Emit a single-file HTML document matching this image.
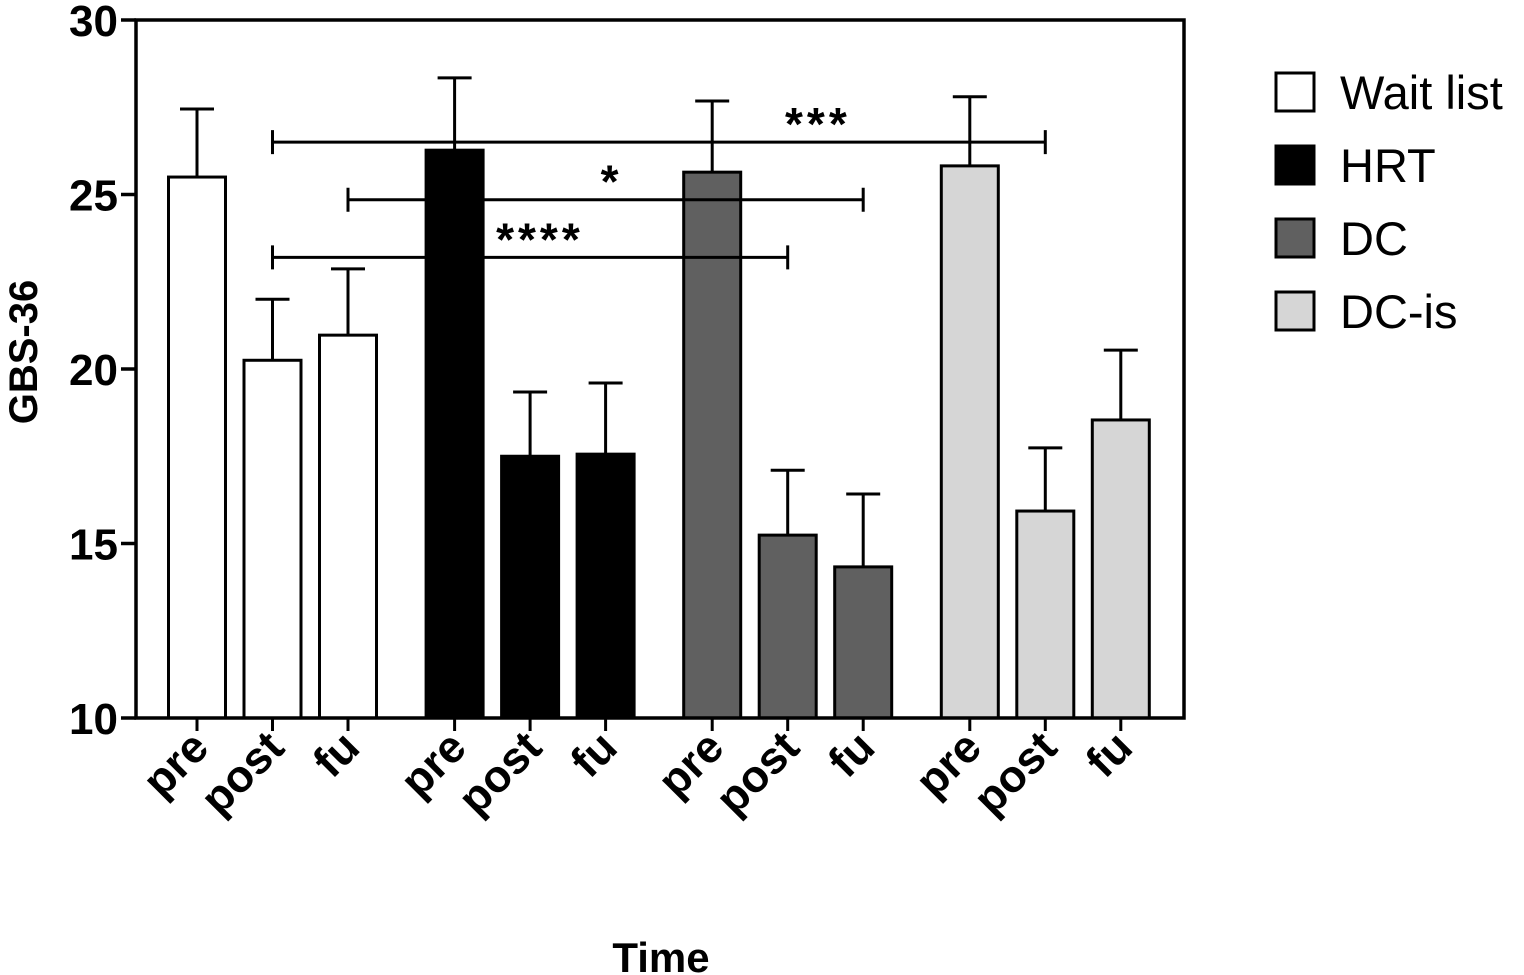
<!DOCTYPE html>
<html><head><meta charset="utf-8"><style>
html,body{margin:0;padding:0;background:#fff;}
svg{display:block;font-family:"Liberation Sans",Arial,sans-serif;}
</style></head><body>
<svg id="chart" width="1524" height="975" viewBox="0 0 1524 975">
<g id="bars"></g>
<g id="axes"></g>
<g id="sig"></g>
<g id="legend"></g>
<text x="661" y="972" text-anchor="middle" font-size="42" font-weight="bold">Time</text>
<text transform="translate(37,352) rotate(-90)" text-anchor="middle" font-size="40" font-weight="bold">GBS-36</text>
</svg>
<script>
const groups = ["Wait list","HRT","DC","DC-is"];
const times = ["pre","post","fu"];
const means = [[25.5,20.25,20.97],[26.27,17.5,17.56],[25.64,15.24,14.33],[25.82,15.93,18.54]];
const errs = [[1.95,1.75,1.9],[2.07,1.84,2.04],[2.04,1.86,2.09],[1.98,1.81,2.0]];
const colors = ["#ffffff","#000000","#606060","#d6d6d6"];
const yTicks = [10,15,20,25,30];
const sigLabels = ["***","*","****"];
const sigLevels = [26.5,24.85,23.2];
const sigFrom = [[0,1],[0,2],[0,1]];
const sigTo = [[3,1],[2,2],[2,1]];
const sigLabelAt = [[2,1.4],[1,2.08],[1,1.13]];

const NS="http://www.w3.org/2000/svg";
const X0=136,X1=1184,Y0=718,Y1=20;
const y = v => Y0-(v-10)/(30-10)*(Y0-Y1);
const xc = (g,t) => 197 + g*257.6 + t*75.5;
function mk(tag,attrs,parent){const e=document.createElementNS(NS,tag);for(const k in attrs)e.setAttribute(k,attrs[k]);parent.appendChild(e);return e;}
const bars=document.getElementById('bars'),axes=document.getElementById('axes'),sig=document.getElementById('sig'),leg=document.getElementById('legend');
const BW=57;
groups.forEach((gname,g)=>{times.forEach((t,i)=>{
  const cx=xc(g,i),top=y(means[g][i]),et=y(means[g][i]+errs[g][i]);
  const l=mk('line',{x1:cx,x2:cx,y1:top,y2:et,stroke:'#000','stroke-width':3},bars);
  
  
  const c=mk('line',{x1:cx-17,x2:cx+17,y1:et,y2:et,stroke:'#000','stroke-width':3},bars);
  
  
  const r=mk('rect',{x:cx-BW/2,y:top,width:BW,height:Y0-top,fill:colors[g],stroke:'#000','stroke-width':3},bars);
  
  
  const tk=mk('line',{x1:cx,x2:cx,y1:Y0,y2:731,stroke:'#000','stroke-width':3},axes);
  
  
  const tx=mk('text',{transform:`translate(${cx+14},${750}) rotate(-45)`,'text-anchor':'end','font-size':45,'font-weight':'bold'},axes);
  tx.textContent=t;
  
  
});});
const frame=mk('rect',{x:X0,y:Y1,width:X1-X0,height:Y0-Y1,fill:'none',stroke:'#000','stroke-width':3.5},axes);


yTicks.forEach(v=>{
  const l=mk('line',{x1:121,x2:X0,y1:y(v),y2:y(v),stroke:'#000','stroke-width':3.5},axes);
  
  
  const t=mk('text',{x:118,y:y(v)+16,'text-anchor':'end','font-size':44,'font-weight':'bold'},axes);
  t.textContent=v;
  
  
});
sigLabels.forEach((lab,k)=>{
  const xa=xc(sigFrom[k][0],sigFrom[k][1]),xb=xc(sigTo[k][0],sigTo[k][1]),yy=y(sigLevels[k]);
  const p=mk('path',{d:`M${xa},${yy-12}V${yy+12}M${xa},${yy}H${xb}M${xb},${yy-12}V${yy+12}`,stroke:'#000','stroke-width':3,fill:'none'},sig);
  
  
  const t=mk('text',{x:xc(sigLabelAt[k][0],sigLabelAt[k][1]),y:yy-2,'text-anchor':'middle','font-size':46,'font-weight':'bold','letter-spacing':4},sig);
  t.textContent=lab;
  
  
});
groups.forEach((gname,g)=>{
  const yy=73+g*73;
  const r=mk('rect',{x:1276,y:yy,width:38,height:38,fill:colors[g],stroke:'#000','stroke-width':3},leg);
  
  
  const t=mk('text',{x:1340,y:yy+36,'font-size':47},leg);
  t.textContent=gname;
  
  
});
</script>
</body></html>
